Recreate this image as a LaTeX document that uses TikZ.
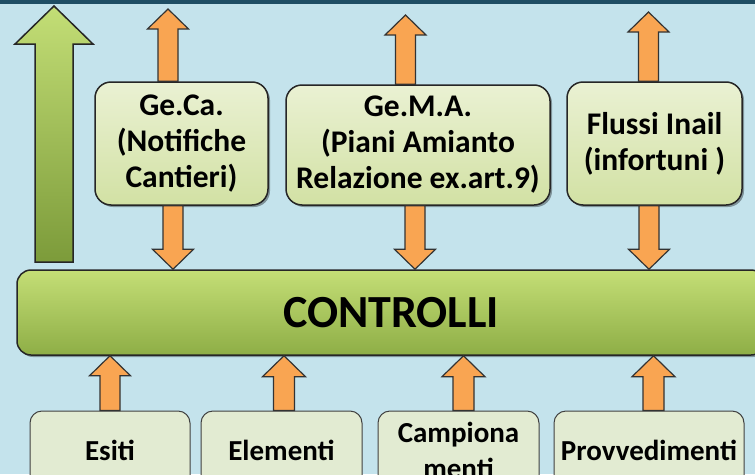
\documentclass[tikz,border=0pt]{standalone}
\usepackage{fontspec}
\setmainfont{Carlito}
\usetikzlibrary{calc,shadows}

\definecolor{skyback}{HTML}{C4E3EC}
\definecolor{bandblue}{HTML}{1F4E64}
\definecolor{orangefill}{HTML}{F9A552}
\definecolor{boxtop}{HTML}{EAF1D3}
\definecolor{boxbot}{HTML}{D2E1A4}
\definecolor{bartop}{HTML}{C4DE76}
\definecolor{barbot}{HTML}{8EAE46}
\definecolor{basefill}{HTML}{E2EBD2}
\definecolor{risetop}{HTML}{C3DE76}
\definecolor{risebot}{HTML}{7C9B3A}

\tikzset{
  softshadow/.style={drop shadow={shadow xshift=2pt, shadow yshift=-2pt, opacity=0.35, fill=black}},
  sysbox/.style={draw=black!85, line width=1.5pt, rounded corners=16pt,
    top color=boxtop, bottom color=boxbot, softshadow, align=center,
    inner sep=0pt, font=\bfseries\fontsize{31.5}{36}\selectfont},
  ctrlbar/.style={draw=black!85, line width=1.5pt, rounded corners=14pt,
    top color=bartop, bottom color=barbot, softshadow, inner sep=0pt,
    font=\bfseries\fontsize{46}{50}\selectfont},
  sourcebox/.style={draw=black!75, line width=1pt, rounded corners=12pt,
    fill=basefill, align=center, inner sep=0pt,
    font=\bfseries\fontsize{29}{36}\selectfont},
  orangearr/.style={draw=black!80, line width=1.2pt, fill=orangefill},
  risearr/.style={draw=black!85, line width=1.5pt, top color=risetop, bottom color=risebot}
}

% block arrows: #2 start, #3 tip, #4 half width of the shaft
\newcommand{\arrowup}[4][orangearr]{%
  \path[#1] let \p1=(#2), \p2=(#3) in
    (\x1-#4,\y1) -- (\x1-#4,\y2-2*#4) -- (\x1-2.05*#4,\y2-2*#4) -- (\x1,\y2)
    -- (\x1+2.05*#4,\y2-2*#4) -- (\x1+#4,\y2-2*#4) -- (\x1+#4,\y1) -- cycle;}
\newcommand{\arrowdown}[4][orangearr]{%
  \path[#1] let \p1=(#2), \p2=(#3) in
    (\x1-#4,\y1) -- (\x1-#4,\y2+2*#4) -- (\x1-2.05*#4,\y2+2*#4) -- (\x1,\y2)
    -- (\x1+2.05*#4,\y2+2*#4) -- (\x1+#4,\y2+2*#4) -- (\x1+#4,\y1) -- cycle;}

\begin{document}
\begin{tikzpicture}[x=1pt, y=-1pt]
  \useasboundingbox (0,0) rectangle (755,474);
  \clip (0,0) rectangle (755,474);

  % background and top band
  \fill[skyback] (0,0) rectangle (755,474);
  \fill[bandblue] (0,0) rectangle (755,3.5);

  % systems
  \node[sysbox, minimum width=173pt, minimum height=123pt] (geca) at (181.5,143.5)
    {Ge.Ca.\\(Notifiche\\Cantieri)};
  \node[sysbox, minimum width=264pt, minimum height=120pt] (gema) at (418,145)
    {Ge.M.A.\\(Piani Amianto\\Relazione ex.art.9)};
  \node[sysbox, minimum width=175pt, minimum height=123pt] (flussi) at (654.5,143.5)
    {Flussi Inail\\(infortuni )};

  % controls bar
  \node[ctrlbar, minimum width=748pt, minimum height=85pt] (ctrl) at (391,312.5) {CONTROLLI};

  % sources
  \node[sourcebox, minimum width=160pt, minimum height=79pt] (esiti) at (110,450.5) {Esiti};
  \node[sourcebox, minimum width=161pt, minimum height=79pt] (elementi) at (281.5,450.5) {Elementi};
  \node[sourcebox, minimum width=161pt, minimum height=79pt] (campioni) at (458.5,450.5) {Campiona\\menti};
  \node[sourcebox, minimum width=190pt, minimum height=79pt] (provv) at (649,450.5) {Provvedimenti};

  % free ends
  \coordinate (risebase) at (54,262);
  \coordinate (risetip) at (54,6);
  \coordinate (gecaout) at (168,9);
  \coordinate (gemaout) at (405.5,15);
  \coordinate (flussiout) at (648.5,12);

  % green arrow
  \arrowup[risearr]{risebase}{risetip}{19pt}

  % arrows out of the systems
  \arrowup{gecaout |- geca.north}{gecaout}{10pt}
  \arrowup{gemaout |- gema.north}{gemaout}{10pt}
  \arrowup{flussiout |- flussi.north}{flussiout}{10pt}

  % arrows into the controls
  \arrowdown{$(geca.south)+(-8.5,0)$}{$(ctrl.north -| geca.south)+(-8.5,0)$}{10pt}
  \arrowdown{$(gema.south)+(-3,0)$}{$(ctrl.north -| gema.south)+(-3,0)$}{10pt}
  \arrowdown{$(flussi.south)+(-5.5,0)$}{$(ctrl.north -| flussi.south)+(-5.5,0)$}{10pt}
  \arrowup{esiti.north}{ctrl.south -| esiti.north}{10pt}
  \arrowup{$(elementi.north)+(2.5,0)$}{$(ctrl.south -| elementi.north)+(2.5,0)$}{10.5pt}
  \arrowup{$(campioni.north)+(5,0)$}{$(ctrl.south -| campioni.north)+(5,0)$}{10.5pt}
  \arrowup{$(provv.north)+(4.5,0)$}{$(ctrl.south -| provv.north)+(4.5,0)$}{10.5pt}
\end{tikzpicture}
\end{document}
